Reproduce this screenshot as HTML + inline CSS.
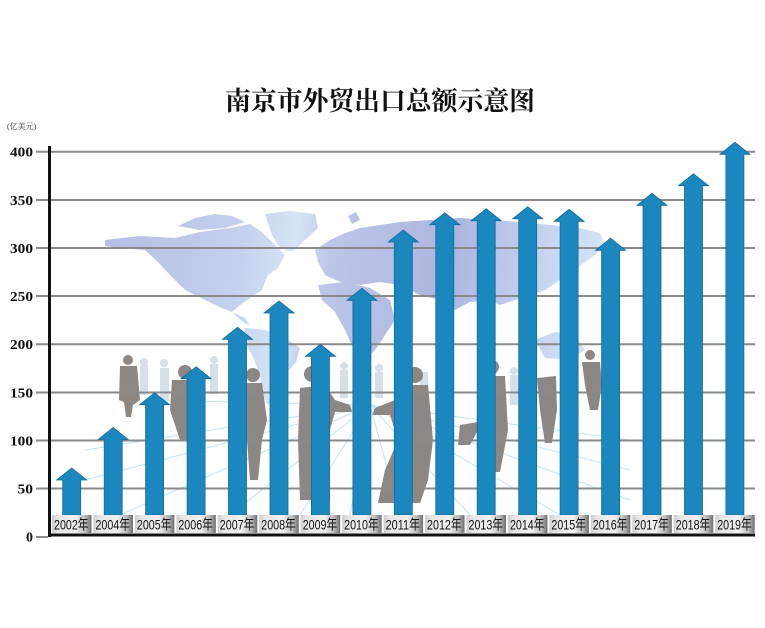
<!DOCTYPE html>
<html><head><meta charset="utf-8"><style>
html,body{margin:0;padding:0;background:#fff;}
svg{display:block;}
</style></head><body>
<svg width="765" height="628" viewBox="0 0 765 628" xmlns="http://www.w3.org/2000/svg">
<defs>
<linearGradient id="map" gradientUnits="userSpaceOnUse" x1="100" y1="220" x2="610" y2="300">
<stop offset="0" stop-color="#b4bce2"/>
<stop offset="0.28" stop-color="#c4d1ee"/>
<stop offset="0.38" stop-color="#d6e4f5"/>
<stop offset="0.45" stop-color="#bcc6e8"/>
<stop offset="0.68" stop-color="#adb5de"/>
<stop offset="0.88" stop-color="#c8d7f1"/>
<stop offset="1" stop-color="#d8e6f5"/>
</linearGradient>
<linearGradient id="lab" x1="0" y1="0" x2="1" y2="0">
<stop offset="0" stop-color="#cdcdcd"/>
<stop offset="0.15" stop-color="#e6e6e6"/>
<stop offset="0.6" stop-color="#f0f0f0"/>
<stop offset="0.85" stop-color="#b8b8b8"/>
<stop offset="1" stop-color="#6e6e6e"/>
</linearGradient>
</defs>
<rect width="765" height="628" fill="#fff"/>

<!-- world map -->
<g fill="url(#map)">
<polygon points="105,240 140,236 175,238 200,232 230,228 250,224 262,232 275,245 285,255 278,268 268,275 262,290 250,298 240,305 232,312 222,308 205,300 185,290 170,275 158,262 145,250 120,248 105,246"/>
<polygon points="178,226 195,218 215,214 232,216 245,222 225,228 200,230"/>
<polygon points="265,214 290,211 315,214 318,228 305,240 292,252 280,248 272,235"/>
<polygon points="232,312 245,318 250,326 243,322"/>
<polygon points="245,328 265,330 285,338 300,348 296,362 285,375 275,395 268,405 262,395 260,375 252,355 243,340"/>
<polygon points="315,250 330,240 345,233 360,228 380,225 400,222 430,220 460,218 490,220 520,222 550,225 580,228 600,233 605,245 595,255 585,262 575,270 560,280 545,290 530,295 515,300 500,305 490,300 470,302 455,310 440,300 420,295 400,285 380,282 360,285 340,282 325,275 318,262"/>
<polygon points="318,285 345,282 370,288 390,300 395,320 385,335 375,350 365,360 355,352 345,330 335,312 322,300"/>
<polygon points="535,340 555,332 575,335 585,350 570,360 545,358"/>
<polygon points="348,216 356,212 360,220 352,224"/>
</g>

<!-- rays -->
<g stroke="#c4e2f3" stroke-width="1" fill="none">
<line x1="370" y1="405" x2="85" y2="450"/>
<line x1="370" y1="405" x2="85" y2="480"/>
<line x1="370" y1="405" x2="120" y2="515"/>
<line x1="370" y1="405" x2="230" y2="515"/>
<line x1="370" y1="405" x2="300" y2="515"/>
<line x1="370" y1="405" x2="350" y2="515"/>
<line x1="370" y1="405" x2="400" y2="515"/>
<line x1="370" y1="405" x2="470" y2="515"/>
<line x1="370" y1="405" x2="560" y2="515"/>
<line x1="370" y1="405" x2="630" y2="500"/>
<line x1="370" y1="405" x2="630" y2="470"/>
<line x1="370" y1="405" x2="630" y2="440"/>
<line x1="370" y1="405" x2="150" y2="400"/>
</g>

<!-- faint background figures -->
<g fill="#d6e0e8">
<rect x="140" y="365" width="8" height="30"/><circle cx="144" cy="362" r="4"/>
<rect x="160" y="368" width="9" height="32"/><circle cx="164" cy="363" r="4"/>
<rect x="210" y="364" width="8" height="30"/><circle cx="214" cy="360" r="4"/>
<rect x="340" y="370" width="8" height="28"/><circle cx="344" cy="366" r="4"/>
<rect x="375" y="372" width="8" height="26"/><circle cx="379" cy="368" r="4"/>
<rect x="510" y="375" width="8" height="30"/><circle cx="514" cy="371" r="4"/>
<rect x="420" y="372" width="8" height="22"/>
</g>

<!-- silhouettes -->
<g fill="#8d8783">
<circle cx="128" cy="360" r="5"/>
<polygon points="120,366 137,366 140,400 133,405 131,417 126,417 124,402 119,400"/>
<circle cx="185" cy="372" r="7"/>
<polygon points="172,380 200,380 205,440 180,440 170,410"/>
<circle cx="253" cy="375" r="7"/>
<polygon points="245,383 262,383 267,420 262,440 258,480 250,480 247,440 243,420"/>
<circle cx="312" cy="374" r="8"/>
<polygon points="300,388 325,385 335,400 350,405 352,412 335,412 330,430 330,500 300,500 298,440"/>
<circle cx="415" cy="375" r="8"/>
<polygon points="400,385 428,385 433,440 428,480 420,503 378,503 385,470 398,440 390,415 372,415 375,408 395,400"/>
<circle cx="492" cy="367" r="7"/>
<polygon points="478,376 505,376 508,430 500,472 490,472 485,430 478,430 470,445 458,445 460,425 478,422"/>
<polygon points="537,378 556,376 557,410 552,443 545,443 540,410"/>
<circle cx="590" cy="355" r="5"/>
<polygon points="582,362 600,362 602,385 598,410 590,410 585,385"/>
</g>

<!-- gridlines -->
<g stroke="#8a8a8a" stroke-width="2">
<line x1="36" y1="151.7" x2="755" y2="151.7"/>
<line x1="36" y1="200" x2="755" y2="200"/>
<line x1="36" y1="248" x2="755" y2="248"/>
<line x1="36" y1="296" x2="755" y2="296"/>
<line x1="36" y1="344.3" x2="755" y2="344.3"/>
<line x1="36" y1="392.5" x2="755" y2="392.5"/>
<line x1="36" y1="440.5" x2="755" y2="440.5"/>
<line x1="36" y1="488.5" x2="755" y2="488.5"/>
<line x1="36" y1="537" x2="48" y2="537"/>
</g>

<!-- bars -->
<g fill="#1a87bf" stroke="#13699a" stroke-width="0.8">
<polygon points="62.7,515 62.7,480 56.7,480 71.7,468 86.7,480 80.7,480 80.7,515"/>
<polygon points="104.2,515 104.2,439.5 98.2,439.5 113.2,427.5 128.2,439.5 122.2,439.5 122.2,515"/>
<polygon points="145.6,515 145.6,404.7 139.6,404.7 154.6,392.7 169.6,404.7 163.6,404.7 163.6,515"/>
<polygon points="187.1,515 187.1,378.7 181.1,378.7 196.1,366.7 211.1,378.7 205.1,378.7 205.1,515"/>
<polygon points="228.5,515 228.5,339.3 222.5,339.3 237.5,327.3 252.5,339.3 246.5,339.3 246.5,515"/>
<polygon points="270,515 270,313 264,313 279,301 294,313 288,313 288,515"/>
<polygon points="311.4,515 311.4,356.3 305.4,356.3 320.4,344.3 335.4,356.3 329.4,356.3 329.4,515"/>
<polygon points="352.9,515 352.9,300.3 346.9,300.3 361.9,288.3 376.9,300.3 370.9,300.3 370.9,515"/>
<polygon points="394.3,515 394.3,242 388.3,242 403.3,230 418.3,242 412.3,242 412.3,515"/>
<polygon points="435.8,515 435.8,224.7 429.8,224.7 444.8,212.7 459.8,224.7 453.8,224.7 453.8,515"/>
<polygon points="477.2,515 477.2,220.7 471.2,220.7 486.2,208.7 501.2,220.7 495.2,220.7 495.2,515"/>
<polygon points="518.7,515 518.7,218.7 512.7,218.7 527.7,206.7 542.7,218.7 536.7,218.7 536.7,515"/>
<polygon points="560.1,515 560.1,221.3 554.1,221.3 569.1,209.3 584.1,221.3 578.1,221.3 578.1,515"/>
<polygon points="601.6,515 601.6,250.3 595.6,250.3 610.6,238.3 625.6,250.3 619.6,250.3 619.6,515"/>
<polygon points="643,515 643,205.3 637,205.3 652,193.3 667,205.3 661,205.3 661,515"/>
<polygon points="684.5,515 684.5,185.7 678.5,185.7 693.5,173.7 708.5,185.7 702.5,185.7 702.5,515"/>
<polygon points="725.9,515 725.9,154.3 719.9,154.3 734.9,142.3 749.9,154.3 743.9,154.3 743.9,515"/>
</g>

<!-- label boxes -->
<g>
<rect x="52" y="515" width="39.5" height="18" fill="url(#lab)"/>
<rect x="93.45" y="515" width="39.5" height="18" fill="url(#lab)"/>
<rect x="134.9" y="515" width="39.5" height="18" fill="url(#lab)"/>
<rect x="176.35" y="515" width="39.5" height="18" fill="url(#lab)"/>
<rect x="217.8" y="515" width="39.5" height="18" fill="url(#lab)"/>
<rect x="259.25" y="515" width="39.5" height="18" fill="url(#lab)"/>
<rect x="300.7" y="515" width="39.5" height="18" fill="url(#lab)"/>
<rect x="342.15" y="515" width="39.5" height="18" fill="url(#lab)"/>
<rect x="383.6" y="515" width="39.5" height="18" fill="url(#lab)"/>
<rect x="425.05" y="515" width="39.5" height="18" fill="url(#lab)"/>
<rect x="466.5" y="515" width="39.5" height="18" fill="url(#lab)"/>
<rect x="507.95" y="515" width="39.5" height="18" fill="url(#lab)"/>
<rect x="549.4" y="515" width="39.5" height="18" fill="url(#lab)"/>
<rect x="590.85" y="515" width="39.5" height="18" fill="url(#lab)"/>
<rect x="632.3" y="515" width="39.5" height="18" fill="url(#lab)"/>
<rect x="673.75" y="515" width="39.5" height="18" fill="url(#lab)"/>
<rect x="715.2" y="515" width="39.5" height="18" fill="url(#lab)"/>
</g>
<g font-family="'Liberation Sans','Noto Sans CJK SC',sans-serif" font-size="14" fill="#111">
<text x="54" y="529.5" textLength="34.5" lengthAdjust="spacingAndGlyphs">2002年</text>
<text x="95.45" y="529.5" textLength="34.5" lengthAdjust="spacingAndGlyphs">2004年</text>
<text x="136.9" y="529.5" textLength="34.5" lengthAdjust="spacingAndGlyphs">2005年</text>
<text x="178.35" y="529.5" textLength="34.5" lengthAdjust="spacingAndGlyphs">2006年</text>
<text x="219.8" y="529.5" textLength="34.5" lengthAdjust="spacingAndGlyphs">2007年</text>
<text x="261.25" y="529.5" textLength="34.5" lengthAdjust="spacingAndGlyphs">2008年</text>
<text x="302.7" y="529.5" textLength="34.5" lengthAdjust="spacingAndGlyphs">2009年</text>
<text x="344.15" y="529.5" textLength="34.5" lengthAdjust="spacingAndGlyphs">2010年</text>
<text x="385.6" y="529.5" textLength="34.5" lengthAdjust="spacingAndGlyphs">2011年</text>
<text x="427.05" y="529.5" textLength="34.5" lengthAdjust="spacingAndGlyphs">2012年</text>
<text x="468.5" y="529.5" textLength="34.5" lengthAdjust="spacingAndGlyphs">2013年</text>
<text x="509.95" y="529.5" textLength="34.5" lengthAdjust="spacingAndGlyphs">2014年</text>
<text x="551.4" y="529.5" textLength="34.5" lengthAdjust="spacingAndGlyphs">2015年</text>
<text x="592.85" y="529.5" textLength="34.5" lengthAdjust="spacingAndGlyphs">2016年</text>
<text x="634.3" y="529.5" textLength="34.5" lengthAdjust="spacingAndGlyphs">2017年</text>
<text x="675.75" y="529.5" textLength="34.5" lengthAdjust="spacingAndGlyphs">2018年</text>
<text x="717.2" y="529.5" textLength="34.5" lengthAdjust="spacingAndGlyphs">2019年</text>
</g>

<!-- axes -->
<rect x="48" y="146" width="3" height="391" fill="#111"/>
<rect x="48" y="533.5" width="707" height="3" fill="#111"/>

<!-- tick labels -->
<g font-family="'Liberation Serif',serif" font-weight="bold" font-size="14" fill="#111" text-anchor="end">
<text x="33" y="156.5" textLength="23" lengthAdjust="spacingAndGlyphs">400</text>
<text x="33" y="205" textLength="23" lengthAdjust="spacingAndGlyphs">350</text>
<text x="33" y="253" textLength="23" lengthAdjust="spacingAndGlyphs">300</text>
<text x="33" y="301" textLength="23" lengthAdjust="spacingAndGlyphs">250</text>
<text x="33" y="349" textLength="23" lengthAdjust="spacingAndGlyphs">200</text>
<text x="33" y="397.5" textLength="23" lengthAdjust="spacingAndGlyphs">150</text>
<text x="33" y="445.5" textLength="23" lengthAdjust="spacingAndGlyphs">100</text>
<text x="33" y="493.5" textLength="15.5" lengthAdjust="spacingAndGlyphs">50</text>
<text x="33" y="541.5">0</text>
</g>
<text x="7" y="129" font-family="'Liberation Serif','Noto Serif CJK SC',serif" font-size="8" fill="#333">(亿美元)</text>

<!-- title -->
<text x="380" y="110" text-anchor="middle" font-family="'Liberation Serif','Noto Serif CJK SC',serif" font-weight="bold" font-size="26" fill="#111" textLength="310" lengthAdjust="spacingAndGlyphs">南京市外贸出口总额示意图</text>
</svg>
</body></html>
